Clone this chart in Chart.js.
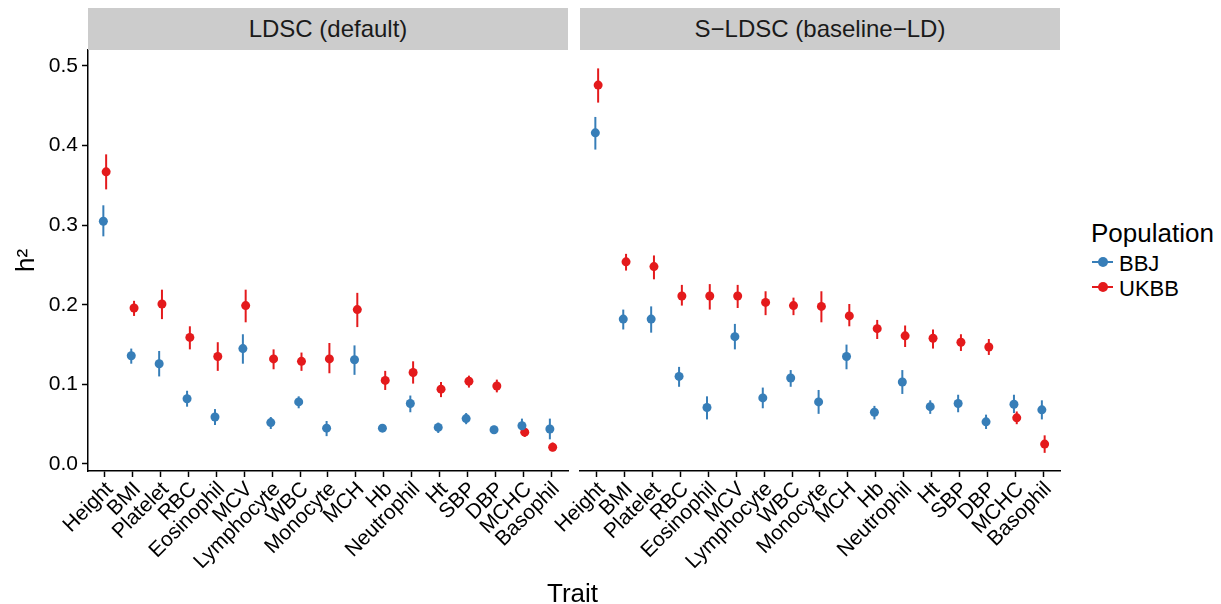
<!DOCTYPE html>
<html>
<head>
<meta charset="utf-8">
<script src="https://cdn.jsdelivr.net/npm/chart.js@4.4.1/dist/chart.umd.min.js"></script>
<style>
    body { margin: 0; background: #fff; font-family: "Liberation Sans", Arial, sans-serif; }
    #wrap { position: relative; width: 1221px; height: 604px; overflow: hidden; }
    .panel { position: absolute; top: 0; height: 604px; }
    .strip { position: absolute; top: 8px; height: 42px; width: 480px; background: #cccccc;
             color: #1a1a1a; font-size: 24px; line-height: 42px; text-align: center; }
    .txt { position: absolute; color: #000; white-space: nowrap; }
    .key { position: absolute; width: 21px; height: 2px; }
    .key span { position: absolute; left: 6px; top: -4px; width: 10px; height: 10px; border-radius: 50%; }
</style>
</head>
<body>
<div id="wrap">
    <div class="panel" style="left:0; width:575px;"><canvas id="chartLdsc"></canvas></div>
    <div class="panel" style="left:480px; width:590px;"><canvas id="chartSldsc"></canvas></div>

    <div class="strip" style="left:88px;">LDSC (default)</div>
    <div class="strip" style="left:580px;">S&minus;LDSC (baseline&minus;LD)</div>

    <div class="txt" style="left:547px; top:580px; font-size:26px; line-height:26px;">Trait</div>

    <div class="txt" style="left:1091px; top:220px; font-size:26px; line-height:26px;">Population</div>
    <div class="key" style="left:1092px; top:261px; background:#377eb8;"><span style="background:#377eb8;"></span></div>
    <div class="txt" style="left:1119px; top:253px; font-size:22px; line-height:22px;">BBJ</div>
    <div class="key" style="left:1092px; top:286px; background:#e41a1c;"><span style="background:#e41a1c;"></span></div>
    <div class="txt" style="left:1119px; top:278px; font-size:22px; line-height:22px;">UKBB</div>
</div>

<script>
// Rasgos (mismo orden en ambos paneles)
const traits = ["Height", "BMI", "Platelet", "RBC", "Eosinophil", "MCV", "Lymphocyte", "WBC",
    "Monocyte", "MCH", "Hb", "Neutrophil", "Ht", "SBP", "DBP", "MCHC", "Basophil"];

// LDSC (default)
const ldscBBJ    = [0.305, 0.136, 0.126, 0.082, 0.059, 0.145, 0.052, 0.078, 0.045, 0.131, 0.045, 0.076, 0.046, 0.057, 0.043, 0.048, 0.044];
const ldscBBJLo  = [0.286, 0.126, 0.110, 0.072, 0.049, 0.126, 0.044, 0.070, 0.035, 0.112, 0.042, 0.065, 0.039, 0.050, 0.038, 0.039, 0.031];
const ldscBBJHi  = [0.325, 0.145, 0.142, 0.092, 0.069, 0.163, 0.059, 0.085, 0.054, 0.149, 0.048, 0.086, 0.052, 0.064, 0.048, 0.057, 0.057];
const ldscUKBB   = [0.367, 0.196, 0.201, 0.159, 0.135, 0.199, 0.132, 0.129, 0.132, 0.194, 0.105, 0.115, 0.094, 0.104, 0.098, 0.040, 0.021];
const ldscUKBBLo = [0.345, 0.186, 0.182, 0.144, 0.117, 0.178, 0.119, 0.117, 0.114, 0.172, 0.093, 0.101, 0.084, 0.096, 0.090, 0.034, 0.016];
const ldscUKBBHi = [0.389, 0.205, 0.219, 0.173, 0.153, 0.219, 0.144, 0.140, 0.152, 0.215, 0.117, 0.129, 0.103, 0.111, 0.106, 0.046, 0.027];

// S-LDSC (baseline-LD)
const sldscBBJ    = [0.416, 0.182, 0.182, 0.110, 0.071, 0.160, 0.083, 0.108, 0.078, 0.135, 0.065, 0.103, 0.072, 0.076, 0.053, 0.075, 0.068];
const sldscBBJLo  = [0.395, 0.169, 0.165, 0.097, 0.056, 0.144, 0.070, 0.097, 0.063, 0.119, 0.056, 0.088, 0.063, 0.065, 0.044, 0.064, 0.056];
const sldscBBJHi  = [0.436, 0.194, 0.198, 0.122, 0.085, 0.176, 0.096, 0.118, 0.093, 0.150, 0.073, 0.118, 0.080, 0.087, 0.062, 0.087, 0.080];
const sldscUKBB   = [0.476, 0.254, 0.248, 0.211, 0.211, 0.211, 0.203, 0.199, 0.198, 0.186, 0.170, 0.161, 0.158, 0.153, 0.147, 0.058, 0.025];
const sldscUKBBLo = [0.454, 0.243, 0.232, 0.199, 0.194, 0.196, 0.187, 0.187, 0.178, 0.173, 0.157, 0.147, 0.145, 0.142, 0.137, 0.050, 0.014];
const sldscUKBBHi = [0.497, 0.264, 0.262, 0.225, 0.226, 0.225, 0.217, 0.209, 0.217, 0.201, 0.181, 0.174, 0.169, 0.163, 0.157, 0.066, 0.036];

const yTicks = [0.0, 0.1, 0.2, 0.3, 0.4, 0.5];

const COLOR_BBJ = '#377eb8';
const COLOR_UKBB = '#e41a1c';
const DODGE = 0.05;

Chart.defaults.font.family = '"Liberation Sans", Arial, sans-serif';
Chart.defaults.color = '#000';

// Dibuja las barras de error (lo-hi) de cada punto antes de los puntos
const errorBars = {
    id: 'errorBars',
    beforeDatasetsDraw(chart) {
        const ctx = chart.ctx;
        const xs = chart.scales.x;
        const ys = chart.scales.y;
        ctx.save();
        chart.data.datasets.forEach(ds => {
            ctx.strokeStyle = ds.backgroundColor;
            ctx.lineWidth = 2;
            ds.data.forEach((p, i) => {
                const px = xs.getPixelForValue(p.x);
                ctx.beginPath();
                ctx.moveTo(px, ys.getPixelForValue(ds.errLo[i]));
                ctx.lineTo(px, ys.getPixelForValue(ds.errHi[i]));
                ctx.stroke();
            });
        });
        ctx.restore();
    }
};

function serie(label, values, lo, hi, color, shift) {
    return {
        label: label,
        data: values.map((v, i) => ({ x: i + shift, y: v })),
        errLo: lo,
        errHi: hi,
        backgroundColor: color,
        borderColor: color,
        borderWidth: 0,
        pointRadius: 4.5,
        showLine: false
    };
}

// conEjeY = false: el eje Y existe solo para reservar el margen, sin dibujarse
function crearPanel(canvasId, datasets, conEjeY, anchoEjeY, padRight) {
    const axisLine = { display: conEjeY, color: '#000', width: 1.5 };
    const tickGrid = { drawOnChartArea: false, tickLength: 6, tickColor: '#000', tickWidth: 1.5 };

    return new Chart(document.getElementById(canvasId), {
        type: 'scatter',
        data: { datasets: datasets },
        options: {
            responsive: true,
            maintainAspectRatio: false,
            animation: false,
            layout: { padding: { top: 50, right: padRight, left: 0, bottom: 0 } },
            scales: {
                x: {
                    type: 'linear',
                    min: -0.6,
                    max: traits.length - 0.4,
                    afterBuildTicks: s => { s.ticks = traits.map((t, i) => ({ value: i })); },
                    afterFit: s => { s.height = 133; },
                    border: { display: true, color: '#000', width: 1.5 },
                    grid: tickGrid,
                    ticks: {
                        autoSkip: false,
                        minRotation: 45,
                        maxRotation: 45,
                        padding: 0,
                        labelOffset: 5,
                        font: { size: 21 },
                        callback: v => traits[v]
                    }
                },
                y: {
                    min: -0.0088,
                    max: 0.5201,
                    afterBuildTicks: s => { s.ticks = yTicks.map(v => ({ value: v })); },
                    afterFit: s => { s.width = anchoEjeY; },
                    border: axisLine,
                    grid: conEjeY ? tickGrid : { display: false },
                    title: {
                        display: conEjeY,
                        text: 'h²',
                        font: { size: 26 },
                        padding: { top: 11, bottom: 0 }
                    },
                    ticks: {
                        display: conEjeY,
                        padding: 4,
                        font: { size: 21 },
                        callback: v => v.toFixed(1)
                    }
                }
            },
            plugins: {
                legend: { display: false },
                tooltip: { enabled: false }
            }
        },
        plugins: [errorBars]
    });
}

crearPanel('chartLdsc', [
    serie('BBJ', ldscBBJ, ldscBBJLo, ldscBBJHi, COLOR_BBJ, -DODGE),
    serie('UKBB', ldscUKBB, ldscUKBBLo, ldscUKBBHi, COLOR_UKBB, DODGE)
], true, 88, 7);

crearPanel('chartSldsc', [
    serie('BBJ', sldscBBJ, sldscBBJLo, sldscBBJHi, COLOR_BBJ, -DODGE),
    serie('UKBB', sldscUKBB, sldscUKBBLo, sldscUKBBHi, COLOR_UKBB, DODGE)
], false, 100, 10);
</script>
</body>
</html>
